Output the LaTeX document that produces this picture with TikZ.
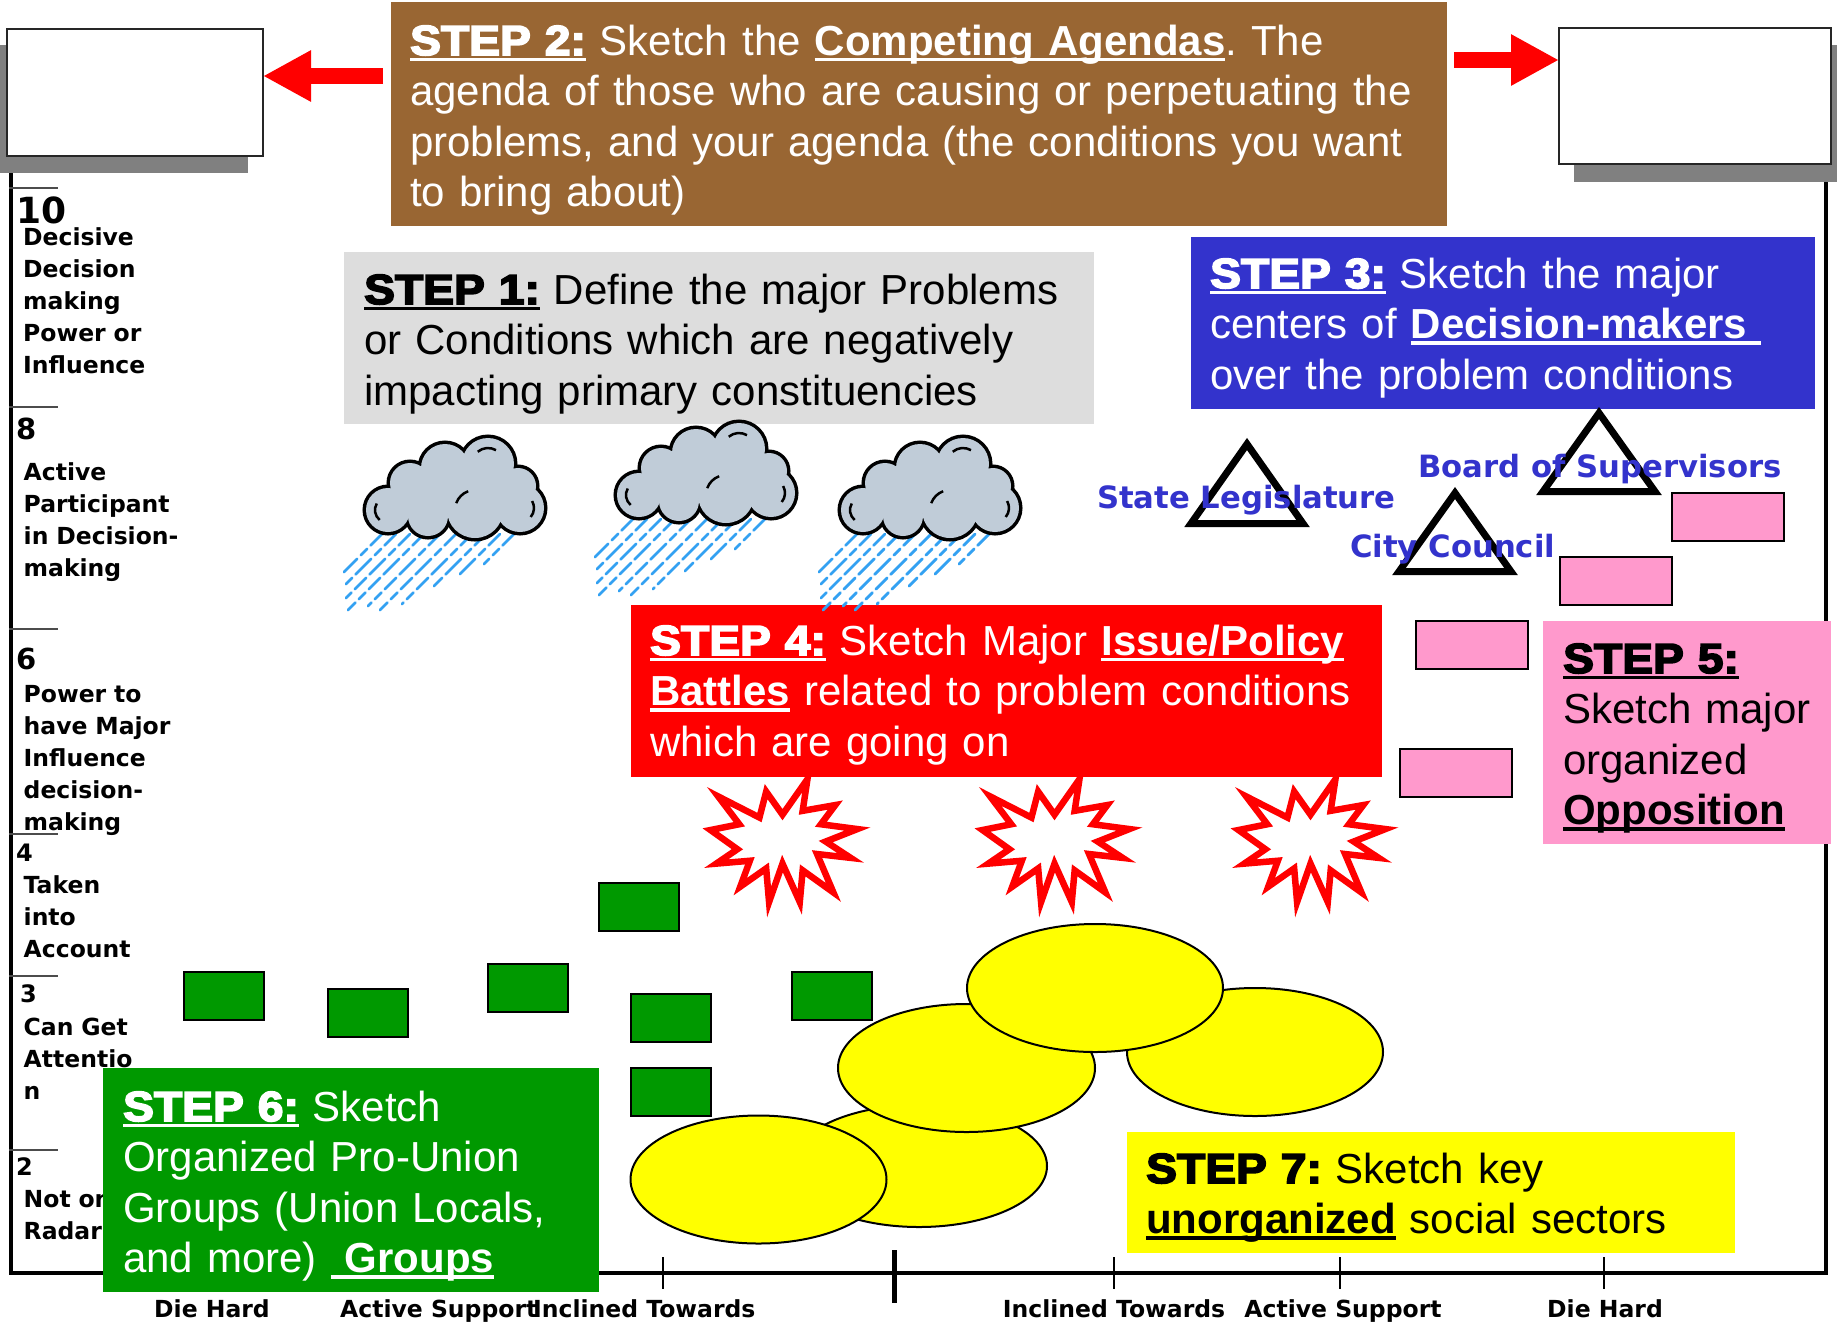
\documentclass[tikz,border=0pt]{standalone}
\usepackage{fontspec}
\setmainfont{Liberation Sans}
\newfontfamily\dvfam{DejaVu Sans}
\newfontfamily\stepfam{Liberation Sans}[FakeStretch=1.1,BoldFeatures={FakeBold=4}]
\usetikzlibrary{shapes.geometric,arrows.meta}
\definecolor{brownbox}{HTML}{996633}
\definecolor{graybox}{HTML}{DDDDDD}
\definecolor{bluebox}{HTML}{3333CC}
\definecolor{redbox}{HTML}{FF0000}
\definecolor{pinkbox}{HTML}{FF99CC}
\definecolor{greenbox}{HTML}{009900}
\definecolor{yellowbox}{HTML}{FFFF00}
\definecolor{shadowgray}{HTML}{808080}
\definecolor{cloudfill}{HTML}{C0CCD8}
\definecolor{raincol}{HTML}{33A1F2}
\newcommand\myul[1]{\leavevmode\setbox0=\hbox{#1}\rlap{\rule[-6.3pt]{\wd0}{3.5pt}}\box0\relax}
\newcommand\stp[1]{{\stepfam\bfseries #1}}
\frenchspacing
\tikzset{
  rain/.style={raincol, line width=2.8pt, line cap=round, dash pattern=on 16pt off 5pt on 9pt off 5pt on 22pt off 5pt},
  cloudpic/.pic={
    \foreach \sx/\rlen in {22/38,36/50,50/64,64/76,80/72,96/76,112/70,126/52,140/40,154/30}
      \draw[rain] (\sx,-96) -- ++(-\rlen,-\rlen);
    \foreach \cx/\cy/\crad in {28/72/22,68/78/20,115/72/28,160/70/24,50/45/20,85/30/24,128/26/26,158/48/18}
      \draw[line width=7pt] (\cx,-\cy) circle[radius=\crad];
    \foreach \cx/\cy/\crad in {28/72/22,68/78/20,115/72/28,160/70/24,50/45/20,85/30/24,128/26/26,158/48/18}
      \fill[cloudfill] (\cx,-\cy) circle[radius=\crad];
    \fill[cloudfill] (28,-72) -- (50,-45) -- (85,-30) -- (128,-26) -- (158,-48) -- (160,-70) -- (115,-72) -- (68,-78) -- cycle;
    \draw[line width=2.5pt] ([shift={(28,-72)}]150:13) arc[start angle=150,end angle=230,radius=13];
    \draw[line width=2.5pt] ([shift={(160,-70)}]-40:14) arc[start angle=-40,end angle=30,radius=14];
    \draw[line width=2.5pt] ([shift={(128,-26)}]60:16) arc[start angle=60,end angle=130,radius=16];
    \draw[line width=2.5pt] ([shift={(115,-72)}]110:20) arc[start angle=110,end angle=160,radius=20];
  },
  starpic/.pic={
    \draw[scale=0.96, redbox, line width=6.5pt, fill=white, line join=miter, miter limit=25]
      (26,66) -- (21,33) -- (55,39) -- (40,19) -- (78,14) -- (45,1) -- (71,-16) -- (36,-12)
      -- (53,-52) -- (21,-29) -- (18,-62) -- (0,-22) -- (-14,-62) -- (-17,-27) -- (-44,-46)
      -- (-34,-19) -- (-69,-22) -- (-47,-7) -- (-75,13) -- (-45,19) -- (-67,48) -- (-24,26)
      -- (-17,53) -- (0,29) -- cycle;
  },
}
\begin{document}
\begin{tikzpicture}[x=1pt,y=1pt,
  panel/.style={rectangle, draw=none, inner sep=0pt, outer sep=0pt, anchor=north west},
  wbox/.style={rectangle, draw=black!85, line width=2pt, fill=white, inner sep=0pt, outer sep=0pt, anchor=north west},
  steptext/.style={anchor=base west, inner sep=0pt, text width=1060pt, align=left, font=\fontsize{42}{50.5}\selectfont},
  lbl/.style={anchor=base west, inner sep=0pt, text width=220pt, align=left, font=\dvfam\bfseries\fontsize{23.5}{32}\selectfont},
  numlbl/.style={anchor=base west, inner sep=0pt, font=\dvfam\bfseries\fontsize{#1}{#1}\selectfont},
  axlbl/.style={anchor=base, inner sep=0pt, font=\dvfam\bfseries\fontsize{23.5}{28}\selectfont},
  dmlbl/.style={anchor=base west, inner sep=0pt, text=bluebox, font=\dvfam\bfseries\fontsize{30.7}{36}\selectfont},
  grect/.style={rectangle, draw=black, line width=2pt, fill=greenbox, inner sep=0pt, anchor=north west, minimum width=80pt, minimum height=48pt},
  prect/.style={rectangle, draw=black, line width=2pt, fill=pinkbox, inner sep=0pt, anchor=north west, minimum width=112pt, minimum height=48pt},
  yell/.style={ellipse, draw=black, line width=2pt, fill=yellowbox, inner sep=0pt},
  redarrow/.style={draw=redbox, line width=16pt, -{Triangle[length=48pt,width=48pt]}},
  axisline/.style={line width=4pt, line join=miter},
  tri/.style={draw=black, line width=7pt, line join=miter},
]
\useasboundingbox (0,0) rectangle (1837,-1326);
\fill[white] (0,0) rectangle (1837,-1326);

% axes
\coordinate (axtl) at (11,-140);
\coordinate (axbl) at (11,-1273);
\coordinate (axbr) at (1826,-1273);
\coordinate (axtr) at (1826,-140);
\draw[axisline] (axtl) -- (axbl) -- (axbr) -- (axtr);
\foreach \yy in {188,407,629,834,976,1150} \draw[line width=1.2pt, black!70] (9,-\yy) -- (58,-\yy);
\foreach \xx in {663,1114,1340,1604} \draw[line width=1.5pt] (\xx,-1257) -- (\xx,-1289);
\draw[line width=5pt] (894,-1250) -- (894,-1303);

% agenda boxes
\fill[shadowgray] (-8,-45) rectangle (248,-173);
\fill[shadowgray] (1574,-45) rectangle (1846,-182);
\node[wbox, minimum width=256pt, minimum height=127pt] (agL) at (7,-29) {};
\node[wbox, minimum width=272pt, minimum height=136pt] (agR) at (1559,-28) {};

% step 2
\node[panel, fill=brownbox, minimum width=1056pt, minimum height=224pt] (s2box) at (391,-2) {};
\node[steptext, text=white] (s2txt) at (410,-55) {\myul{\stp{STEP 2:}} Sketch the \myul{\textbf{Competing Agendas}}. The\\agenda of those who are causing or perpetuating the\\problems, and your agenda (the conditions you want\\to bring about)};
\coordinate (arl) at (383,-76);
\draw[redarrow] (arl) -- (arl -| agL.east);
\coordinate (arr) at (1454,-60);
\draw[redarrow] (arr) -- (arr -| agR.west);

% step 1
\node[panel, fill=graybox, minimum width=750pt, minimum height=172pt] (s1box) at (344,-252) {};
\node[steptext, text=black] (s1txt) at (364,-304) {\myul{\stp{STEP 1:}} Define the major Problems\\or Conditions which are negatively\\impacting primary constituencies};

% step 3
\node[panel, fill=bluebox, minimum width=624pt, minimum height=172pt] (s3box) at (1191,-237) {};
\node[steptext, text=white] (s3txt) at (1210,-288) {\myul{\stp{STEP 3:}} Sketch the major\\centers of \myul{\textbf{Decision-makers }}\\over the problem conditions};

% step 4
\node[panel, fill=redbox, minimum width=751pt, minimum height=172pt] (s4box) at (631,-605) {};
\node[steptext, text=white] (s4txt) at (650,-655) {\myul{\stp{STEP 4:}} Sketch Major \myul{\textbf{Issue/Policy}}\\\myul{\textbf{Battles}} related to problem conditions\\which are going on};

% clouds
\pic (cl1) at (360,-438) {cloudpic};
\pic (cl2) at (611,-423) {cloudpic};
\pic (cl3) at (835,-438) {cloudpic};

% decision makers
\draw[tri] (1247,-444) -- (1191,-523.5) -- (1303,-523.5) -- cycle;
\draw[tri] (1599,-413) -- (1543,-491.5) -- (1655,-491.5) -- cycle;
\draw[tri] (1455,-493) -- (1399,-571.5) -- (1511,-571.5) -- cycle;
\node[dmlbl] (lsl) at (1097,-508) {State Legislature};
\node[dmlbl] (lbs) at (1418,-477) {Board of Supervisors};
\node[dmlbl] (lcc) at (1350,-557) {City Council};

% opposition
\node[prect] (p1) at (1671,-492) {};
\node[prect] (p2) at (1559,-556) {};
\node[prect] (p3) at (1415,-620) {};
\node[prect] (p4) at (1399,-748) {};
\node[panel, fill=pinkbox, minimum width=288pt, minimum height=223pt] (s5box) at (1543,-621) {};
\node[steptext, text=black] (s5txt) at (1563,-673) {\myul{\stp{STEP 5:}}\\Sketch major\\organized\\\myul{\textbf{Opposition}}};

% battles
\pic (st1) at (782.5,-842.5) {starpic};
\pic (st2) at (1054.5,-842.5) {starpic};
\pic (st3) at (1310.5,-842.5) {starpic};

% pro-union groups
\node[grect] (g1) at (183,-971) {};
\node[grect] (g2) at (327,-988) {};
\node[grect] (g3) at (487,-963) {};
\node[grect] (g4) at (598,-882) {};
\node[grect] (g5) at (630,-993) {};
\node[grect] (g6) at (630,-1067) {};
\node[grect] (g7) at (791,-971) {};

% unorganized sectors
\node[yell, minimum width=256pt, minimum height=128pt] (eR) at (1255,-1052) {};
\node[yell, minimum width=256pt, minimum height=122pt] (eBM) at (919,-1166) {};
\node[yell, minimum width=256pt, minimum height=128pt] (eBL) at (758.5,-1179.5) {};
\node[yell, minimum width=257pt, minimum height=128pt] (eML) at (966.5,-1068) {};
\node[yell, minimum width=256pt, minimum height=128pt] (eT) at (1095,-988) {};

% scale labels
\node[numlbl=36] (n10) at (16,-223) {10};
\node[lbl] (l10) at (23,-245) {Decisive\\Decision\\making\\Power or\\Influence};
\node[numlbl=29] (n8) at (16,-439) {8};
\node[lbl] (l8) at (23.5,-480) {Active\\Participant\\in Decision-\\making};
\node[numlbl=29] (n6) at (16,-669) {6};
\node[lbl] (l6) at (23.5,-702) {Power to\\have Major\\Influence\\decision-\\making};
\node[numlbl=24] (n4) at (16,-861) {4};
\node[lbl] (l4) at (23.5,-893) {Taken\\into\\Account};
\node[numlbl=24] (n3) at (20,-1002) {3};
\node[lbl] (l3) at (23.5,-1035) {Can Get\\Attentio\\n};
\node[numlbl=24] (n2) at (16,-1175) {2};
\node[lbl] (l2) at (23.5,-1207) {Not on\\Radar};

% step 6
\node[panel, fill=greenbox, minimum width=496pt, minimum height=224pt] (s6box) at (103,-1068) {};
\node[steptext, text=white] (s6txt) at (123,-1121) {\myul{\stp{STEP 6:}} Sketch\\Organized Pro-Union\\Groups (Union Locals,\\and more) \myul{\textbf{ Groups}}};

% step 7
\node[panel, fill=yellowbox, minimum width=608pt, minimum height=121pt] (s7box) at (1127,-1132) {};
\node[steptext, text=black] (s7txt) at (1146,-1183) {\stp{STEP 7:} Sketch key\\\myul{\textbf{unorganized}} social sectors};

% bottom labels
\node[axlbl] (bdh1) at (212,-1317) {Die Hard};
\node[axlbl, anchor=base west] (bas1) at (340,-1317) {Active Support};
\node[axlbl, anchor=base west] (bit1) at (533,-1317) {Inclined Towards};
\node[axlbl] (bit2) at (1114,-1317) {Inclined Towards};
\node[axlbl] (bas2) at (1343,-1317) {Active Support};
\node[axlbl] (bdh2) at (1605,-1317) {Die Hard};
\end{tikzpicture}
\end{document}
